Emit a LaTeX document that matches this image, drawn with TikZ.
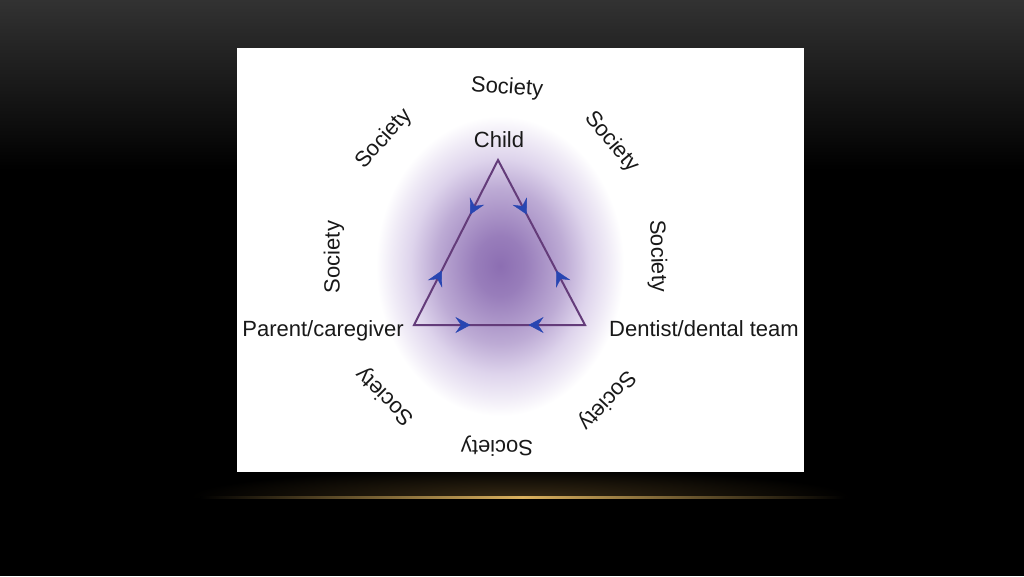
\documentclass[tikz,border=0pt]{standalone}
\usepackage{fontspec}
\setmainfont{Liberation Sans}
\usetikzlibrary{arrows.meta,decorations.markings}
\definecolor{bgtop}{RGB}{50,50,50}
\definecolor{glowc}{RGB}{140,110,178}
\definecolor{lavc}{RGB}{222,212,236}
\definecolor{edgec}{RGB}{100,60,122}
\definecolor{arrowc}{RGB}{40,70,178}
\definecolor{goldc}{RGB}{220,178,95}
\definecolor{brownglow}{RGB}{55,42,20}
\definecolor{txt}{RGB}{25,25,25}
\pgfdeclareradialshading{purpleglow}{\pgfpoint{0bp}{0bp}}{color(0bp)=(glowc); color(5bp)=(glowc!85!lavc); color(13bp)=(glowc!40!lavc); color(18bp)=(lavc); color(22bp)=(lavc!45!white); color(25bp)=(white); color(50bp)=(white)}
\begin{document}
\begin{tikzpicture}[x=1pt,y=-1pt,
  lbl/.style={text=txt, font=\fontsize{22}{26}\selectfont, inner sep=0pt},
  edgeline/.style={draw=edgec, line width=2pt, line join=miter},
  tipdeco/.style={decoration={markings,
     mark=at position 0.33 with {\arrow{Stealth[length=15pt,width=16pt,inset=5.5pt,color=arrowc]}},
     mark=at position 0.67 with {\arrowreversed{Stealth[length=15pt,width=16pt,inset=5.5pt,color=arrowc]}}},
     decorate}]
\useasboundingbox (0,0) rectangle (1024,576);
% background
\fill[black] (0,0) rectangle (1024,576);
\shade[top color=bgtop, bottom color=black] (0,0) rectangle (1024,170);
% glow above gold line
\begin{scope}
  \clip (150,455) rectangle (900,497);
  \shade[inner color=brownglow, outer color=black] (520,497) ellipse (330 and 28);
\end{scope}
\shade[left color=black, right color=black, middle color=goldc] (200,496) rectangle (845,498.2);
% white panel
\fill[white] (237,48) rectangle (804,472);
% purple glow
\shade[shading=purpleglow] (500,266) ellipse (124 and 150);
% triangle
\coordinate (C) at (498,160);
\coordinate (P) at (414,325);
\coordinate (D) at (585,325);
\draw[edgeline] (C) -- (P) -- (D) -- cycle;
\path[tipdeco] (C) -- (P);
\path[tipdeco] (C) -- (D);
\path[tipdeco] (P) -- (D);
% labels
\node[lbl, anchor=base] (child) at (499,147) {Child};
\node[lbl, anchor=base east] (parent) at (404,336) {Parent/caregiver};
\node[lbl, anchor=base west] (dentist) at (609,336) {Dentist/dental team};
% society ring
\node[lbl, rotate=-4] (s1) at (507,88) {Society};
\node[lbl, rotate=48] (s2) at (384,139) {Society};
\node[lbl, rotate=-50] (s3) at (612,142) {Society};
\node[lbl, rotate=90] (s4) at (334,257) {Society};
\node[lbl, rotate=-88] (s5) at (657,256) {Society};
\node[lbl, rotate=135] (s6) at (385,396) {Society};
\node[lbl, rotate=-133] (s7) at (607,400) {Society};
\node[lbl, rotate=180] (s8) at (497,446) {Society};
\end{tikzpicture}
\end{document}
